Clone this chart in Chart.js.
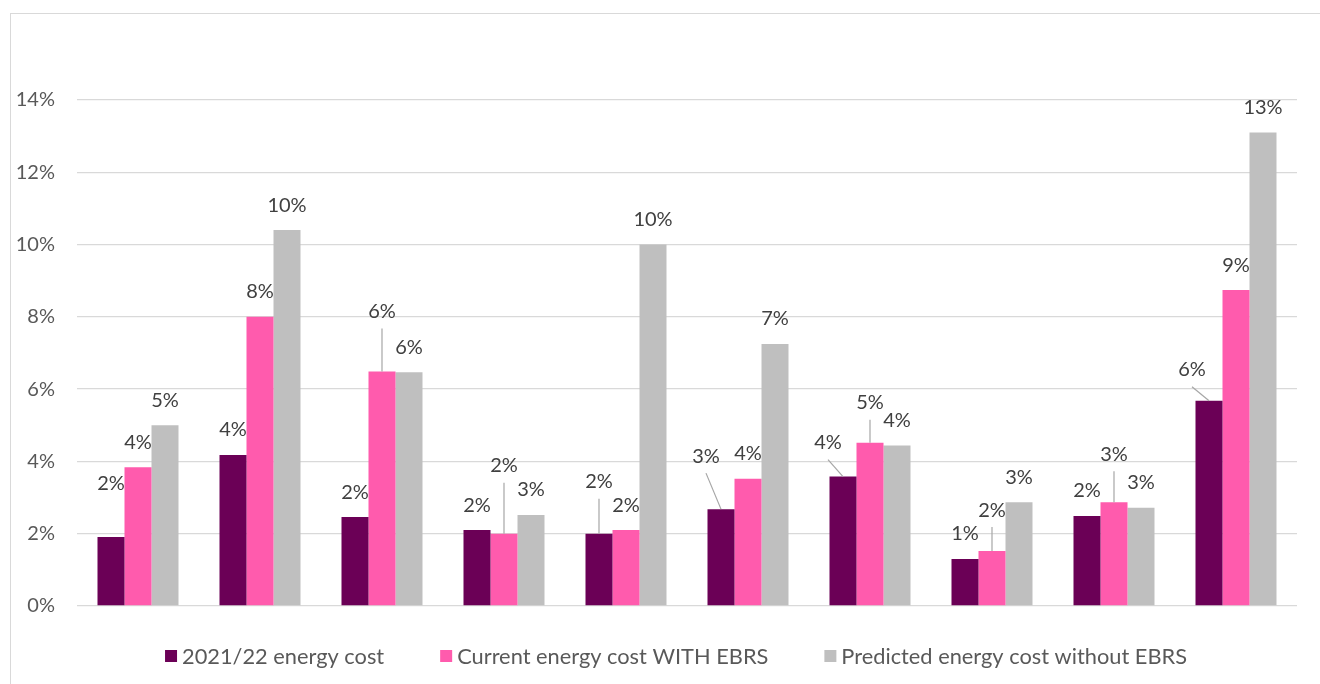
<!DOCTYPE html>
<html>
<head>
<meta charset="utf-8">
<script src="https://cdn.jsdelivr.net/npm/chart.js@4/dist/chart.umd.min.js"></script>
<style>
  body { margin: 0; background: #fff; }
  #frame { position: absolute; left: 10px; top: 13px; width: 1400px; height: 700px;
           border-top: 1.5px solid #d9d9d9; border-left: 1.5px solid #d9d9d9; }
  #chart { position: absolute; left: 0; top: 0; }
</style>
</head>
<body>
<div id="frame"></div>
<canvas id="chart" width="1320" height="684"></canvas>
<script>
// values in percent
const categories = ["", "", "", "", "", "", "", "", "", ""];
const cost2122 = [1.91, 4.18, 2.46, 2.10, 2.00, 2.68, 3.58, 1.30, 2.49, 5.68];
const costWithEbrs = [3.84, 8.00, 6.49, 2.00, 2.10, 3.52, 4.52, 1.52, 2.87, 8.74];
const costWithoutEbrs = [5.00, 10.40, 6.47, 2.52, 10.00, 7.25, 4.44, 2.87, 2.72, 13.10];
const seriesNames = ["2021/22 energy cost", "Current energy cost WITH EBRS", "Predicted energy cost without EBRS"];
const seriesColors = ["#6b0056", "#ff5bad", "#bfbfbf"];
const yTicks = [0, 2, 4, 6, 8, 10, 12, 14];

// labels moved off the bar top: "dataset,index" -> [dx, dy, leader line]
const labelMoves = {
  "0,0": [0, -28, false],
  "1,2": [0, -35, true],
  "1,3": [0, -43, true],
  "0,4": [0, -27, true],
  "0,5": [-15, -28, true],
  "0,6": [-15, -9, true],
  "1,6": [0, -15, true],
  "1,7": [0, -16, true],
  "1,8": [0, -23, true],
  "0,9": [-17, -6, true]
};

const FONT = "Lato, 'Open Sans', sans-serif";

const valueLabels = {
  id: 'valueLabels',
  afterDatasetsDraw(chart) {
    const ctx = chart.ctx;
    ctx.save();
    ctx.font = "20px " + FONT;
    ctx.textAlign = 'center';
    ctx.textBaseline = 'middle';
    chart.data.datasets.forEach((ds, d) => {
      chart.getDatasetMeta(d).data.forEach((bar, i) => {
        const mv = labelMoves[d + "," + i] || [0, 0, false];
        const lx = bar.x + mv[0];
        const ly = bar.y - 25 + mv[1];
        if (mv[2]) {
          ctx.strokeStyle = '#a6a6a6';
          ctx.lineWidth = 1.2;
          ctx.beginPath();
          ctx.moveTo(lx, ly + 17);
          ctx.lineTo(bar.x, bar.y);
          ctx.stroke();
        }
        ctx.fillStyle = '#404040';
        ctx.fillText(Math.round(ds.data[i]) + '%', lx, ly);
      });
    });
    ctx.restore();
  }
};

// legend drawn by hand so box/text spacing matches
const bottomLegend = {
  id: 'bottomLegend',
  afterDraw(chart) {
    const ctx = chart.ctx;
    ctx.save();
    ctx.font = "21.8px " + FONT;
    ctx.textBaseline = 'middle';
    const box = 12, gapText = 5, gapItem = 56;
    const widths = seriesNames.map(n => box + gapText + ctx.measureText(n).width);
    const total = widths.reduce((a, b) => a + b, 0) + gapItem * (widths.length - 1);
    let x = 676 - total / 2;
    const y = 656;
    seriesNames.forEach((n, k) => {
      ctx.fillStyle = seriesColors[k];
      ctx.fillRect(x, y - 6, box, box);
      ctx.fillStyle = '#595959';
      ctx.fillText(n, x + box + gapText, y + 1);
      x += widths[k] + gapItem;
    });
    ctx.restore();
  }
};

const ctx = document.getElementById('chart').getContext('2d');
const chart = new Chart(ctx, {
  type: 'bar',
  data: {
    labels: categories,
    datasets: [
      { label: seriesNames[0], data: cost2122, backgroundColor: seriesColors[0] },
      { label: seriesNames[1], data: costWithEbrs, backgroundColor: seriesColors[1] },
      { label: seriesNames[2], data: costWithoutEbrs, backgroundColor: seriesColors[2] }
    ]
  },
  options: {
    responsive: false,
    animation: false,
    layout: { padding: { top: 100, right: 23, bottom: 78, left: 0 } },
    datasets: { bar: { categoryPercentage: 0.664, barPercentage: 1.0 } },
    plugins: { legend: { display: false }, tooltip: { enabled: false } },
    scales: {
      x: { display: false },
      y: {
        min: 0,
        max: 14,
        afterFit(scale) { scale.width = 77; },
        afterBuildTicks(scale) { scale.ticks = yTicks.map(v => ({ value: v })); },
        border: { display: false },
        grid: { color: '#d9d9d9', lineWidth: 1.3, drawTicks: false },
        ticks: {
          padding: 22,
          color: '#595959',
          font: { family: FONT, size: 20 },
          callback: v => v + '%'
        }
      }
    }
  },
  plugins: [valueLabels, bottomLegend]
});
</script>
</body>
</html>
